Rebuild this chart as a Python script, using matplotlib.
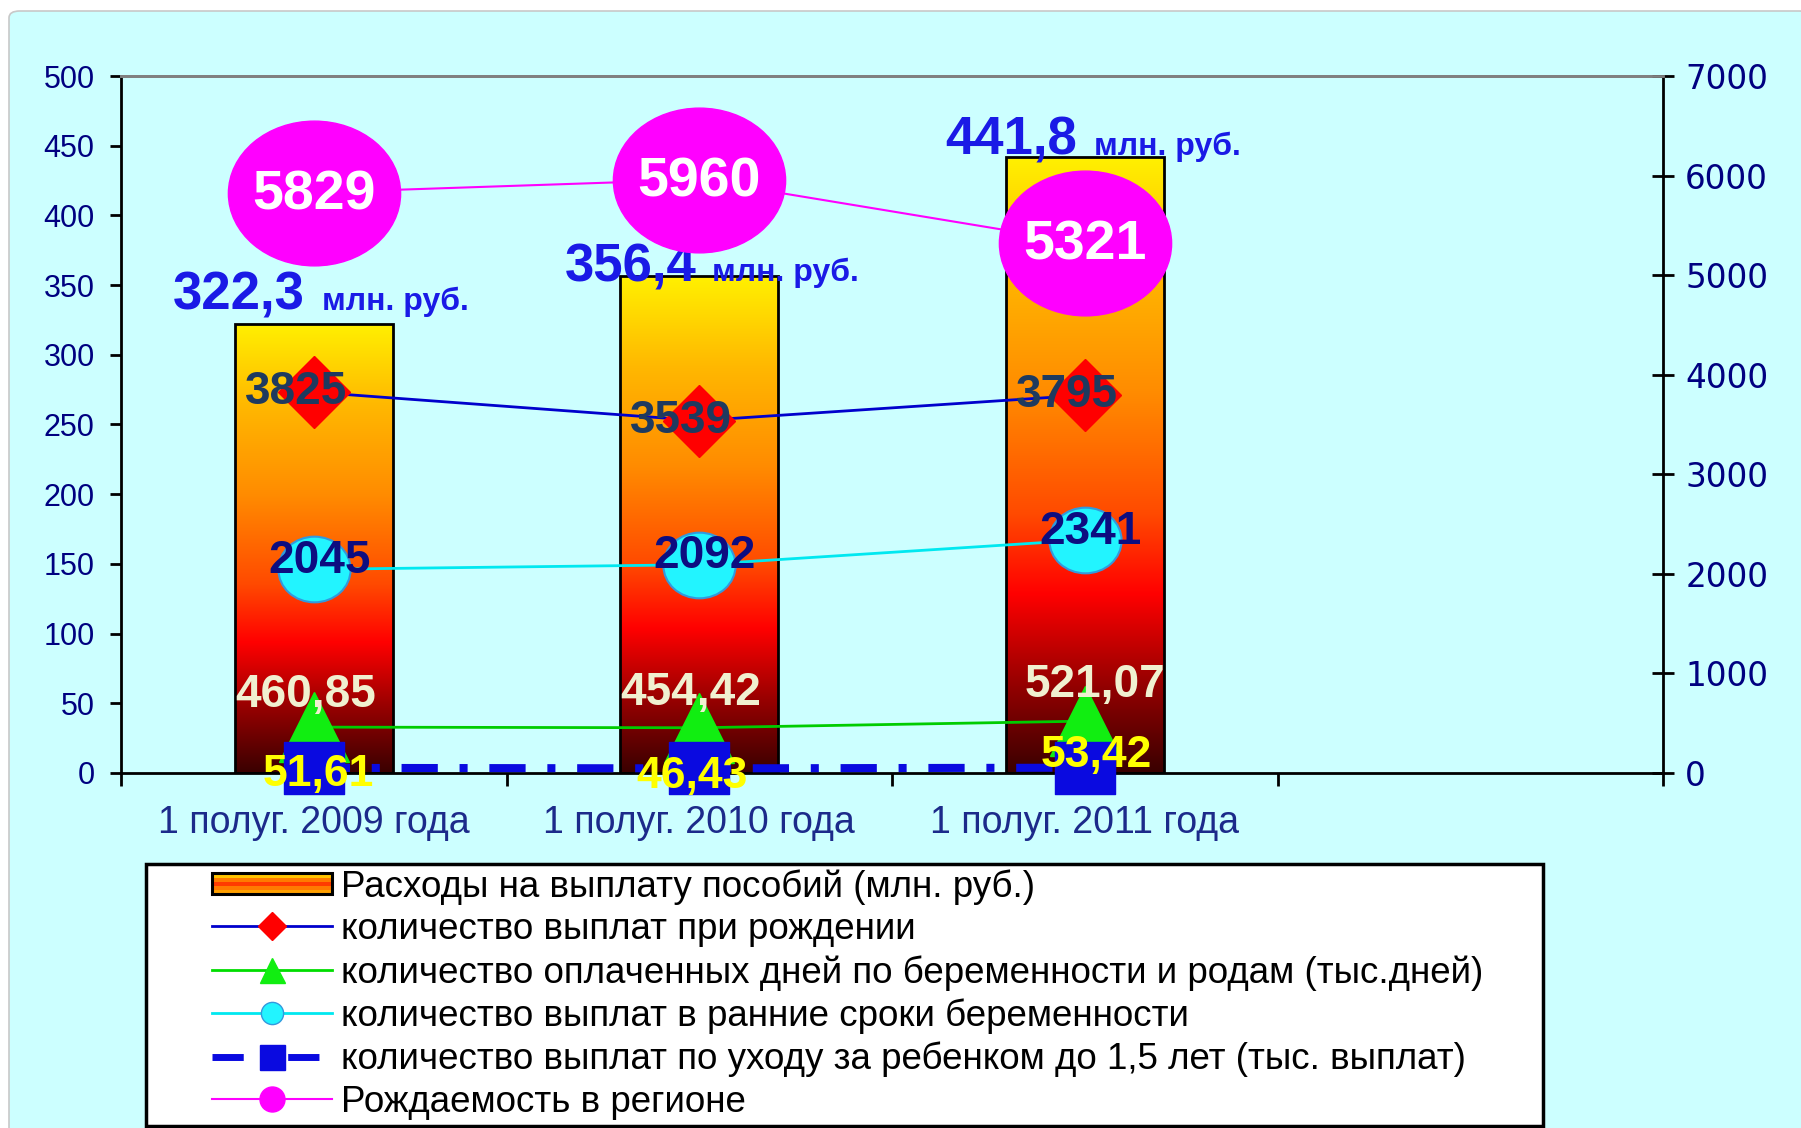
import numpy as np
import matplotlib
matplotlib.use('Agg')
import matplotlib.pyplot as plt
from matplotlib.path import Path
from matplotlib.transforms import Affine2D
from matplotlib.patches import Rectangle, FancyBboxPatch
from matplotlib.colors import LinearSegmentedColormap
from matplotlib.legend_handler import HandlerBase
from matplotlib.lines import Line2D

# ---------------- data ----------------
categories = ['1 полуг. 2009 года', '1 полуг. 2010 года', '1 полуг. 2011 года']
expenses = [322.3, 356.4, 441.8]              # Расходы на выплату пособий (млн. руб.), left axis
births_region = [5829, 5960, 5321]            # Рождаемость в регионе
birth_payments = [3825, 3539, 3795]           # выплаты при рождении
early_payments = [2045, 2092, 2341]           # выплаты в ранние сроки беременности
paid_days = [460.85, 454.42, 521.07]          # оплаченные дни (тыс. дней)
childcare_payments = [51.61, 46.43, 53.42]    # выплаты по уходу за ребенком (тыс. выплат)

left_ticks = [0, 50, 100, 150, 200, 250, 300, 350, 400, 450, 500]
right_ticks = [0, 1000, 2000, 3000, 4000, 5000, 6000, 7000]

legend_labels = [
    'Расходы на выплату пособий (млн. руб.)',
    'количество выплат при рождении',
    'количество оплаченных дней по беременности и родам (тыс.дней)',
    'количество выплат в ранние сроки беременности',
    'количество выплат по уходу за ребенком до 1,5 лет (тыс. выплат)',
    'Рождаемость в регионе',
]
unit_text = 'млн. руб.'

# ---------------- style ----------------
plt.rcParams['font.family'] = ['Liberation Sans', 'DejaVu Sans']
W, H = 1801, 1128
BG = '#CCFFFF'

fig = plt.figure(figsize=(W / 100, H / 100), dpi=100, facecolor='white')
fig.patches.append(FancyBboxPatch((9 / W, -0.01), 1.0, 1 - 11 / H + 0.01,
                                  boxstyle='round,pad=0,rounding_size=0.006',
                                  transform=fig.transFigure, facecolor=BG,
                                  edgecolor='#C8C8C8', linewidth=1.2, zorder=-10))

ax = fig.add_axes([121 / W, 1 - 773 / H, (1663 - 121) / W, (773 - 76) / H])
ax.set_facecolor('none')
x = np.arange(len(categories))

# bars with vertical gradient
cmap = LinearSegmentedColormap.from_list('bar', [
    (0.00, '#3A0000'), (0.15, '#9A0000'), (0.29, '#FF0000'), (0.42, '#FF4A00'),
    (0.62, '#FF8C00'), (0.82, '#FFB800'), (1.00, '#FFF000')])
bars = ax.bar(x, expenses, width=0.41, facecolor='none', edgecolor='black',
              linewidth=2, zorder=3)
grad = np.linspace(0, 1, 256).reshape(-1, 1)
for b in bars:
    x0, w, h = b.get_x(), b.get_width(), b.get_height()
    im = ax.imshow(grad, extent=[x0, x0 + w, 0, h], origin='lower', cmap=cmap,
                   aspect='auto', zorder=2, interpolation='bicubic')
    im.set_clip_path(b)

ax.set_xlim(-0.5, 3.5)
ax.set_ylim(0, 500)
ax.set_yticks(left_ticks)
ax.tick_params(axis='y', direction='out', length=8, width=2, pad=11,
               labelsize=22, labelcolor='#000080', color='black')
ax.set_xticks(x)
ax.set_xticklabels(categories)
ax.set_xticks([-0.5, 0.5, 1.5, 2.5, 3.5], minor=True)
ax.tick_params(axis='x', which='major', length=0, pad=23, labelsize=27,
               labelcolor='#1C2A8A')
ax.tick_params(axis='x', which='minor', direction='out', length=9, width=2, color='black')
for s in ['left', 'bottom']:
    ax.spines[s].set_color('black')
    ax.spines[s].set_linewidth(2)
ax.spines['right'].set_visible(False)
ax.spines['top'].set_color('#808080')
ax.spines['top'].set_linewidth(2)

# bar value labels
big_dx = [-6.6, -1.6, -5.8]
small_dx = [5.8, 9.0, 6.6]
base_dy = [10, -3.5, 1.7]
for i, v in enumerate(expenses):
    ax.annotate(f'{v:.1f}'.replace('.', ','), (x[i], v), xytext=(big_dx[i], base_dy[i]),
                textcoords='offset points', ha='right', va='baseline', fontsize=38,
                fontweight='bold', color='#1A1AE6', zorder=10, annotation_clip=False)
    ax.annotate(unit_text, (x[i], v), xytext=(small_dx[i], base_dy[i]),
                textcoords='offset points', ha='left', va='baseline', fontsize=23,
                fontweight='bold', color='#1A1AE6', zorder=10, annotation_clip=False)

# secondary axis
ax2 = ax.twinx()
ax2.set_ylim(0, 7000)
ax2.set_yticks(right_ticks)
ax2.tick_params(axis='y', direction='inout', length=16, width=2, pad=8,
                labelsize=23.5, labelcolor='#000080', color='black')
for lab in ax2.get_yticklabels():
    lab.set_family('DejaVu Sans')
for s in ['left', 'bottom']:
    ax2.spines[s].set_visible(False)
ax2.spines['top'].set_color('#808080')
ax2.spines['top'].set_linewidth(2)
ax2.spines['right'].set_color('black')
ax2.spines['right'].set_linewidth(2)

def ellipse(aspect):
    return Path.unit_circle().transformed(Affine2D().scale(aspect, 1.0))

def rect(aspect):
    return Path([(-aspect, -1), (aspect, -1), (aspect, 1), (-aspect, 1), (-aspect, -1)],
                [Path.MOVETO, Path.LINETO, Path.LINETO, Path.LINETO, Path.CLOSEPOLY])

ax2.plot(x, births_region, color='#FF00FF', lw=1.5, marker=ellipse(1.19), ms=124,
         mfc='#FF00FF', mec='#FF00FF', zorder=3)
ax2.plot(x, birth_payments, color='#0000CC', lw=2, marker='D', ms=37,
         mfc='#FF0000', mec='#FF0000', zorder=3)
ax2.plot(x, early_payments, color='#00E8F0', lw=2, marker=ellipse(1.1), ms=52,
         mfc='#22F4FF', mec='#3399DD', mew=1.5, zorder=3)
ax2.plot(x, paid_days, color='#00CC00', lw=2, marker='^', ms=50,
         mfc='#11EE11', mec='#11EE11', zorder=3)
ax2.plot(x, childcare_payments, color='#0A0AE0', lw=5.8, ls=(0, (4.5, 2.7, 1, 2.7)),
         marker=rect(1.15), ms=43, mfc='#0A0AE0', mec='#0A0AE0', zorder=4,
         clip_on=False)

def lbl(values, fmt, offsets, size, color):
    for i, v in enumerate(values):
        ax2.annotate(fmt(v), (x[i], v), xytext=offsets[i], textcoords='offset points',
                     ha='center', va='center', fontsize=size, fontweight='bold',
                     color=color, zorder=12, annotation_clip=False)

comma2 = lambda v: f'{v:.2f}'.replace('.', ',')
lbl(births_region, lambda v: f'{v}', [(0, -2)] * 3, 40, 'white')
lbl(birth_payments, lambda v: f'{v}', [(-13, 0)] * 3, 33, '#1E3A5F')
lbl(early_payments, lambda v: f'{v}', [(4, 6)] * 3, 33, '#0D0D80')
lbl(paid_days, comma2, [(-6, 23), (-6, 25), (7, 26)], 33, '#F0F0D0')
lbl(childcare_payments, comma2, [(3, -5), (-5, -6), (8, 9)], 32, '#FFFF00')

# ---------------- legend ----------------
class GradientHandler(HandlerBase):
    def create_artists(self, legend, orig_handle, xdescent, ydescent, width, height,
                       fontsize, trans):
        cols = ['#FFC400', '#FF7A00', '#FF3A00', '#FF7A00', '#FFA000']
        n = len(cols)
        h = height * 0.8
        y0 = -ydescent + (height - h) / 2
        arts = []
        for i, c in enumerate(cols):
            arts.append(Rectangle((-xdescent, y0 + h * (n - 1 - i) / n), width, h / n,
                                  facecolor=c, edgecolor='none', transform=trans))
        arts.append(Rectangle((-xdescent, y0), width, h, facecolor='none',
                              edgecolor='black', lw=2.2, transform=trans))
        return arts

bar_proxy = Rectangle((0, 0), 1, 1)
handles = [
    bar_proxy,
    Line2D([], [], color='#0000CC', lw=2, marker='D', ms=14, mfc='#FF0000', mec='#FF0000'),
    Line2D([], [], color='#00DD00', lw=2, marker='^', ms=18, mfc='#11EE11', mec='#11EE11'),
    Line2D([], [], color='#00E8F0', lw=2, marker='o', ms=16, mfc='#22F4FF', mec='#3399DD'),
    Line2D([], [], color='#0A0AE0', lw=5, ls=(0, (4.5, 2.7, 1, 2.7)), marker='s', ms=18,
           mfc='#0A0AE0', mec='#0A0AE0'),
    Line2D([], [], color='#FF00FF', lw=1.5, marker='o', ms=18, mfc='#FF00FF', mec='#FF00FF'),
]
fig.patches.append(Rectangle((146 / W, 2 / H), (1543 - 146) / W, (1126 - 864) / H,
                             transform=fig.transFigure, facecolor='white',
                             edgecolor='black', linewidth=2.5, zorder=-5))
fig.legend(handles, legend_labels, loc='upper left', bbox_to_anchor=(212 / W, 1 - 869 / H),
           frameon=False, fontsize=26.5, handlelength=3.25, handletextpad=0.25,
           labelspacing=0.21, borderpad=0, borderaxespad=0,
           handler_map={bar_proxy: GradientHandler()})

fig.savefig('out.png', dpi=100, facecolor=fig.get_facecolor())
